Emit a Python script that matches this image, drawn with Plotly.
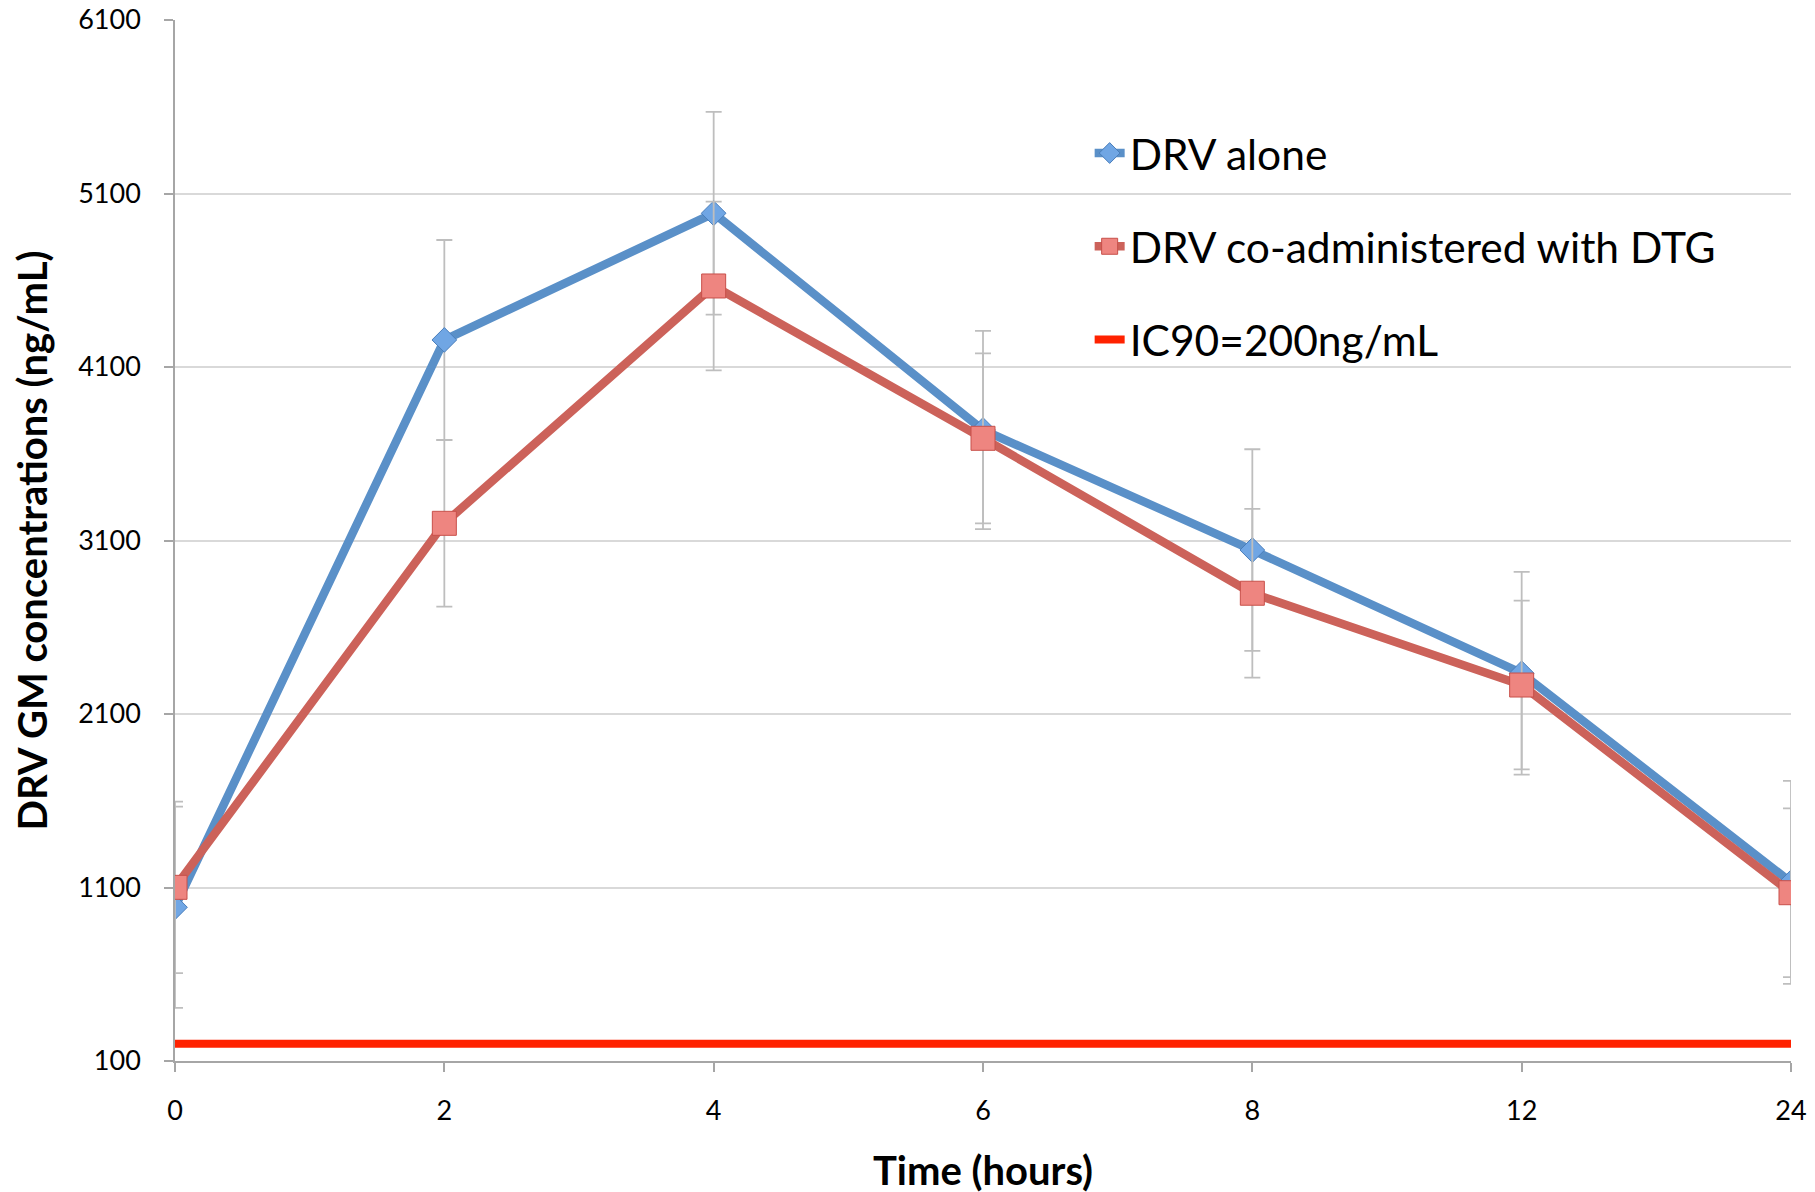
import plotly.graph_objects as go

hours = ["0", "2", "4", "6", "8", "12", "24"]
drv_alone = [986, 4256, 4986, 3737, 3045, 2335, 1130]
drv_alone_err = [580, 576, 584, 571, 581, 584, 585]
drv_dtg = [1101, 3199, 4567, 3689, 2796, 2267, 1070]
drv_dtg_err = [494, 480, 486, 490, 486, 486, 486]
ic90 = [200, 200, 200, 200, 200, 200, 200]
y_ticks = [100, 1100, 2100, 3100, 4100, 5100, 6100]

FONT = "Lato"
ERR_COLOR = "#BEBEBE"

fig = go.Figure()
fig.add_trace(go.Scatter(
    x=hours, y=drv_alone, name="DRV alone", mode="lines+markers",
    legendgroup="a",
    line=dict(color="#5A90C8", width=8.5),
    marker=dict(symbol="diamond", size=19, color="#70A6E4",
                line=dict(color="#4A7EBB", width=1)),
    error_y=dict(type="data", array=drv_alone_err, visible=True,
                 color=ERR_COLOR, thickness=1.8, width=8),
))
fig.add_trace(go.Scatter(
    x=hours, y=drv_dtg, name="DRV co-administered with DTG", mode="lines+markers",
    legendgroup="b",
    line=dict(color="#CC625A", width=8.5),
    marker=dict(symbol="square", size=24, color="#EE8580",
                line=dict(color="#C8504A", width=1)),
    error_y=dict(type="data", array=drv_dtg_err, visible=True,
                 color=ERR_COLOR, thickness=1.8, width=8),
))
fig.add_trace(go.Scatter(
    x=hours, y=ic90, name="IC90=200ng/mL", mode="lines",
    legendgroup="c",
    line=dict(color="#FF2200", width=8),
))

fig.update_layout(
    width=1815, height=1192,
    paper_bgcolor="white", plot_bgcolor="white",
    margin=dict(l=167, r=32, t=12, b=139),
    font=dict(family=FONT, color="black"),
    showlegend=True,
    legend=dict(
        x=0.566, y=0.905, xanchor="left", yanchor="top",
        font=dict(family=FONT, size=42.5, color="black"),
        bgcolor="rgba(0,0,0,0)", tracegroupgap=35,
        itemwidth=30,
    ),
    xaxis=dict(
        type="category", range=[0, 6], automargin=False,
        showgrid=False, showline=True, linecolor="#A6A6A6", linewidth=1.5,
        ticks="outside", ticklen=9, tickcolor="#A6A6A6", tickwidth=1.5,
        tickfont=dict(family=FONT, size=27, color="black"),
        ticklabelstandoff=16, ticklabeloverflow="allow",
        title=dict(text="<b>Time (hours)</b>", font=dict(family=FONT, size=40, color="black"),
                   standoff=32),
        zeroline=False,
    ),
    yaxis=dict(
        range=[100, 6100], tickvals=y_ticks, automargin=False,
        showgrid=True, gridcolor="#D9D9D9", gridwidth=1.5,
        showline=True, linecolor="#A6A6A6", linewidth=1.5,
        ticks="outside", ticklen=9, tickcolor="#A6A6A6", tickwidth=1.5,
        tickfont=dict(family=FONT, size=27, color="black"),
        ticklabelstandoff=18, ticklabeloverflow="allow",
        title=dict(text="<b>DRV GM concentrations (ng/mL)</b>",
                   font=dict(family=FONT, size=40, color="black"), standoff=20),
        zeroline=False,
    ),
)

fig.write_html("out.html")
